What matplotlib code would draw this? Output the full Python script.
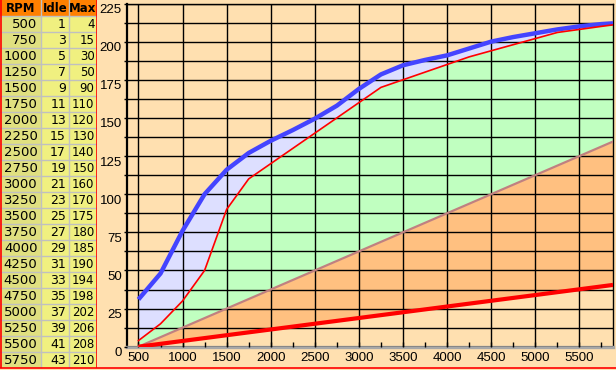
import matplotlib
matplotlib.use('Agg')
import matplotlib.pyplot as plt
import numpy as np
from matplotlib.patches import Rectangle
from matplotlib.lines import Line2D
from matplotlib.transforms import ScaledTranslation

# table values
rpm = [500, 750, 1000, 1250, 1500, 1750, 2000, 2250, 2500, 2750, 3000,
       3250, 3500, 3750, 4000, 4250, 4500, 4750, 5000, 5250, 5500, 5750]
idle = [1, 3, 5, 7, 9, 11, 13, 15, 17, 19, 21,
        23, 25, 27, 29, 31, 33, 35, 37, 39, 41, 43]
max_vals = [4, 15, 30, 50, 90, 110, 120, 130, 140, 150, 160,
            170, 175, 180, 185, 190, 194, 198, 202, 206, 208, 210]

# upper (blue) curve at the same rpm points
limit_vals = [31, 48, 76, 100, 116, 127, 135, 142, 149.5, 158, 169,
              178.5, 184.5, 188, 191, 195.5, 200, 203, 205.5, 208, 210, 211.5]

# curves carry on to the right edge of the plot
edge_rpm = 5882
max_edge = 211
limit_edge = 212

# straight lines (start and end points)
diag_rpm = [500, 5882]
diag_vals = [0, 134.5]
low_rpm = [500, 5882]
low_vals = [0, 40.5]

x_ticks = [500, 1000, 1500, 2000, 2500, 3000, 3500, 4000, 4500, 5000, 5500]
y_ticks = [0, 25, 50, 75, 100, 125, 150, 175, 200, 225]

peach = '#FFE0B0'
W, H = 616, 370


def px_rect(x0, y0, x1, y1):
    return [x0 / W, 1 - y1 / H, (x1 - x0) / W, (y1 - y0) / H]


fig = plt.figure(figsize=(W / 100, H / 100), dpi=100, facecolor=peach)

# ---- chart ----
ax = fig.add_axes(px_rect(127, 3.5, 613, 346.7))
ax.set_facecolor(peach)
ax.set_xlim(370, edge_rpm)
ax.set_ylim(0, 225)

cx = np.array(rpm + [edge_rpm], dtype=float)
red_y = np.array(max_vals + [max_edge], dtype=float)
blue_y = np.array(limit_vals + [limit_edge], dtype=float)
fine = np.linspace(500, edge_rpm, 600)
red_f = np.interp(fine, cx, red_y)
blue_f = np.interp(fine, cx, blue_y)
diag_f = np.interp(fine, diag_rpm, diag_vals)
low_f = np.interp(fine, low_rpm, low_vals)

ax.fill_between(fine, red_f, blue_f, color='#DDDFFF', lw=0, zorder=1)
ax.fill_between(fine, diag_f, red_f, color='#C0FFC0', lw=0, zorder=1)
ax.fill_between(fine, low_f, diag_f, color='#FFC080', lw=0, zorder=1)

ax.plot(cx, blue_y, color='#4444FF', lw=3.2, zorder=3, solid_capstyle='butt')
ax.plot(cx, red_y, color='#FF0000', lw=1.2, zorder=3)
ax.plot(diag_rpm, diag_vals, color='#C08080', lw=1.6, zorder=3)
ax.plot(low_rpm, low_vals, color='#FF0000', lw=3.0, zorder=3, solid_capstyle='butt')

ax.set_axisbelow(False)
ax.set_xticks(x_ticks)
ax.set_xticks(np.arange(500, 5751, 250), minor=True)
ax.set_yticks(y_ticks)
ax.set_yticks(np.arange(0, 225.1, 12.5), minor=True)
ax.grid(True, which='both', axis='y', color='black', lw=1)
ax.grid(True, which='major', axis='x', color='black', lw=1)

lab_font = ['Liberation Sans', 'DejaVu Sans']
ax.set_xticklabels([str(v) for v in x_ticks], fontsize=9.5, family=lab_font)
ax.set_yticklabels([str(v) for v in y_ticks], fontsize=9.5, family=lab_font)
ax.tick_params(axis='x', which='both', direction='in', length=3.6, width=1,
               color='black', pad=4)
ax.tick_params(axis='y', which='both', direction='out', length=2.2, width=1,
               color='black', pad=1.5)
# labels sit a little under their gridlines
shift = ScaledTranslation(0, -5 / 100, fig.dpi_scale_trans)
for lbl in ax.get_yticklabels():
    lbl.set_transform(lbl.get_transform() + shift)

ax.spines['left'].set_linewidth(1.6)
ax.spines['top'].set_linewidth(1)
ax.spines['right'].set_linewidth(1)
ax.spines['bottom'].set_color('#A8A8A8')
ax.spines['bottom'].set_linewidth(2.4)

# ---- table ----
tab = fig.add_axes(px_rect(0, 0, 97, 368))
tab.set_xlim(0, 97)
tab.set_ylim(368, 0)
tab.axis('off')

row_h = 16
cols = [(0, 41), (41, 69), (69, 97)]
n = len(rpm)
tab.add_patch(Rectangle((0, row_h), 41, n * row_h, color='#E0E080', lw=0))
tab.add_patch(Rectangle((41, row_h), 56, n * row_h, color='#F0F080', lw=0))
tab.add_patch(Rectangle((0, 0), 97, row_h, color='#FF8000', lw=0))
for i in range(1, n + 1):
    tab.axhline(i * row_h, color='#C0C0C0', lw=1)
for xb in [41, 69]:
    tab.axvline(xb, color='#C0C0C0', lw=1)
tab.axvline(0.7, color='red', lw=1.2)
tab.axvline(96.5, color='red', lw=1.2)

for (c0, c1), name in zip(cols, ['RPM', 'Idle', 'Max']):
    tab.text((c0 + c1) / 2, row_h / 2 + 0.5, name, ha='center', va='center',
             fontsize=8.5, fontweight='bold', color='black')

pads = [3.5, 3, 2.5]
sizes = [9.5, 9, 8.5]
for i in range(n):
    yc = row_h * (i + 1) + row_h / 2 + 1
    for (c0, c1), v, p, fs in zip(cols, [rpm[i], idle[i], max_vals[i]], pads, sizes):
        tab.text(c1 - p, yc, str(v), ha='right', va='center', fontsize=fs,
                 color='black')

# red line along the bottom
fig.add_artist(Line2D([0, 1], [1 - 367.5 / H, 1 - 367.5 / H], color='red',
                      lw=1.2, transform=fig.transFigure))

fig.savefig('out.png', dpi=100, facecolor=peach)
